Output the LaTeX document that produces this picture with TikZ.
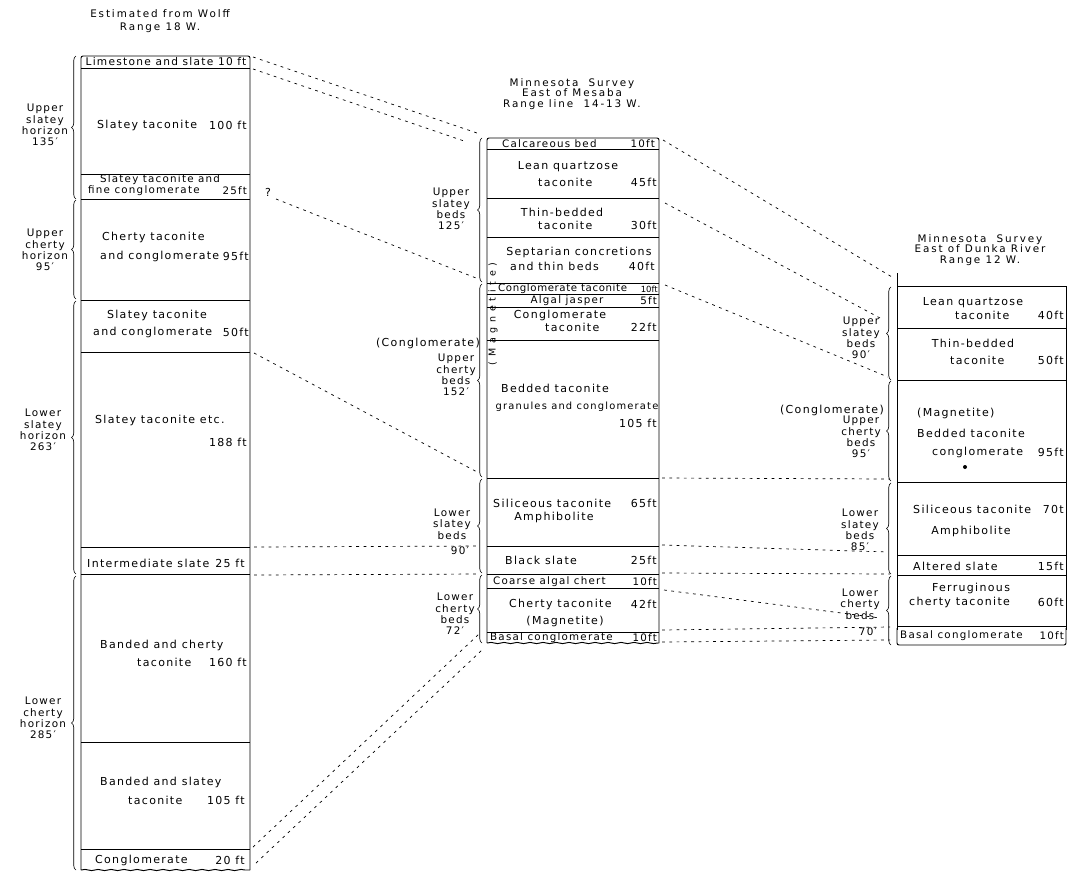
\documentclass[tikz,border=0pt]{standalone}
\usepackage{fontspec}
\setmainfont{DejaVu Sans}[LetterSpace=12]
\usetikzlibrary{decorations.pathreplacing,decorations.pathmorphing}
\tikzset{
  txt/.style={font=\fontsize{11}{12}\selectfont, inner sep=0pt},
  txs/.style={font=\fontsize{10.3}{11}\selectfont, inner sep=0pt},
  txx/.style={font=\fontsize{10.2}{11}\selectfont\addfontfeatures{LetterSpace=6}, inner sep=0pt},
  lab/.style={font=\fontsize{10.4}{11.3}\selectfont, align=center, inner sep=0pt},
  ttl/.style={font=\fontsize{10.4}{10.4}\selectfont\addfontfeatures{LetterSpace=18}, align=center, inner sep=0pt},
  col/.style={line width=0.95pt},
  sep/.style={line width=0.85pt},
  wavy/.style={line width=0.95pt, decorate, decoration={snake, amplitude=0.6pt, segment length=13pt}},
  corr/.style={line width=0.7pt, dash pattern=on 2.8pt off 4.5pt},
  brc/.style={decorate, decoration={brace, amplitude=4.5pt}, line width=0.65pt}
}
\begin{document}
\begin{tikzpicture}[x=1pt,y=-1pt]
\useasboundingbox (0,0) rectangle (1068,873);
% ---------------- titles
\node[ttl, font=\fontsize{10.4}{13}\selectfont\addfontfeatures{LetterSpace=18}] (tl) at (160,21.5) {Estimated from Wolff\\Range 18 W.};
\node[ttl] (tm) at (572,94) {Minnesota\ \ Survey\\East of Mesaba\\Range line\ \ 14-13 W.};
\node[ttl] (tr) at (980,250) {Minnesota\ \ Survey\\East of Dunka River\\Range 12 W.};

% ---------------- left column
\draw[col, rounded corners=2pt] (81,870) -- (81,56) -- (250,56) -- (250,870);
\draw[wavy] (81,870) -- (250,870);
\foreach \y in {68,174,199,300,352,547,574,742,849} \draw[sep] (81,\y) -- (250,\y);
\draw[brc] (76,199) -- (76,56);
\draw[brc] (76,299) -- (76,200);
\draw[brc] (76,574) -- (76,301);
\draw[brc] (76,870) -- (76,576);

\node[txt, font=\fontsize{10.6}{12}\selectfont] (a1) at (166,62) {Limestone and slate 10 ft};
\node[txt,anchor=west] (a2) at (97,125) {Slatey taconite};
\node[txt,anchor=east] (a2f) at (247,125) {100 ft};
\node[txs] (a3) at (160,180) {Slatey taconite and};
\node[txs,anchor=west] (a3b) at (88,191) {fine conglomerate};
\node[txs,anchor=east] (a3f) at (247,191) {25ft};
\node[txt,anchor=west] (a4) at (102,237) {Cherty taconite};
\node[txt,anchor=west] (a4b) at (100,256) {and conglomerate};
\node[txt,anchor=east] (a4f) at (249,256) {95ft};
\node[txt] (a5) at (157,315) {Slatey taconite};
\node[txt,anchor=west] (a5b) at (93,332) {and conglomerate};
\node[txt,anchor=east] (a5f) at (249,332) {50ft};
\node[txt,anchor=west] (a6) at (95,420) {Slatey taconite etc.};
\node[txt,anchor=east] (a6f) at (247,442) {188 ft};
\node[txt,anchor=west] (a7) at (87,563) {Intermediate slate};
\node[txt,anchor=east] (a7f) at (245,563) {25 ft};
\node[txt,anchor=west] (a8) at (100,645) {Banded and cherty};
\node[txt,anchor=west] (a8b) at (137,662) {taconite};
\node[txt,anchor=east] (a8f) at (247,662) {160 ft};
\node[txt,anchor=west] (a9) at (100,782) {Banded and slatey};
\node[txt,anchor=west] (a9b) at (128,800) {taconite};
\node[txt,anchor=east] (a9f) at (245,800) {105 ft};
\node[txt,anchor=west] (a10) at (95,860) {Conglomerate};
\node[txt,anchor=east] (a10f) at (245,860) {20 ft};

\node[lab] (la1) at (45,125) {Upper\\slatey\\horizon\\135′};
\node[lab] (la2) at (45,250) {Upper\\cherty\\horizon\\95′};
\node[lab] (la3) at (43,430) {Lower\\slatey\\horizon\\263′};
\node[lab] (la4) at (43,718) {Lower\\cherty\\horizon\\285′};
\node[txt] (qm) at (268,192) {?};

% ---------------- middle column
\draw[col, rounded corners=2pt] (487,643) -- (487,138) -- (659,138) -- (659,643);
\draw[wavy] (487,643) -- (659,643);
\foreach \y in {149,198,237,283,294,307,340,478,546,574,588,632} \draw[sep] (487,\y) -- (659,\y);
\draw[brc] (482,282) -- (482,138);
\draw[brc] (482,477) -- (482,284);
\draw[brc] (482,573) -- (482,479);
\draw[brc] (482,643) -- (482,575);

\node[txs,anchor=west] (b1) at (502,143.5) {Calcareous bed};
\node[txs,anchor=east] (b1f) at (655,143.5) {10ft};
\node[txt] (b2) at (568,167) {Lean quartzose};
\node[txt,anchor=west] (b2b) at (538,182) {taconite};
\node[txt,anchor=east] (b2f) at (657,182) {45ft};
\node[txt] (b3) at (562,212) {Thin-bedded};
\node[txt,anchor=west] (b3b) at (538,225) {taconite};
\node[txt,anchor=east] (b3f) at (657,225) {30ft};
\node[txt] (b4) at (579,252) {Septarian concretions};
\node[txt,anchor=west] (b4b) at (510,266) {and thin beds};
\node[txt,anchor=east] (b4f) at (655,266) {40ft};
\node[txx,anchor=west] (b5) at (498,289) {Conglomerate taconite};
\node[txx,anchor=east, font=\fontsize{8.5}{9}\selectfont\addfontfeatures{LetterSpace=0}] (b5f) at (658,289) {10ft};
\node[txs] (b6) at (567,300.5) {Algal jasper};
\node[txs,anchor=east] (b6f) at (657,300.5) {5ft};
\node[txt] (b7) at (560,315) {Conglomerate};
\node[txt,anchor=west] (b7b) at (545,327) {taconite};
\node[txt,anchor=east] (b7f) at (657,327) {22ft};
\node[txt] (b8) at (555,388) {Bedded taconite};
\node[txs, font=\fontsize{9.9}{11}\selectfont] (b8b) at (577,407) {granules and conglomerate};
\node[txt,anchor=east] (b8f) at (657,423) {105 ft};
\node[txt,anchor=west] (b9) at (493,503) {Siliceous taconite};
\node[txt,anchor=east] (b9f) at (657,503) {65ft};
\node[txt] (b9b) at (554,517) {Amphibolite};
\node[txt,anchor=west] (b10) at (505,560) {Black slate};
\node[txt,anchor=east] (b10f) at (657,560) {25ft};
\node[txs,anchor=west] (b11) at (493,581.5) {Coarse algal chert};
\node[txs,anchor=east] (b11f) at (657,581.5) {10ft};
\node[txt,anchor=west] (b12) at (509,604) {Cherty taconite};
\node[txt,anchor=east] (b12f) at (657,604) {42ft};
\node[txt] (b12b) at (565,621) {(Magnetite)};
\node[txs,anchor=west] (b13) at (490,637.5) {Basal conglomerate};
\node[txs,anchor=east] (b13f) at (657,637.5) {10ft};
\node[txt,rotate=90,font=\fontsize{9.5}{10}\selectfont\addfontfeatures{LetterSpace=50}] (bmag) at (493,314) {(Magnetite)};

\node[lab] (lb1) at (451,209) {Upper\\slatey\\beds\\125′};
\node[txt] (lbc) at (428,343) {(Conglomerate)};
\node[lab] (lb2) at (456,375) {Upper\\cherty\\beds\\152′};
\node[lab] (lb3) at (452,524) {Lower\\slatey\\beds};
\node[lab] (lb3b) at (460,551) {90′};
\node[lab] (lb4) at (455,614) {Lower\\cherty\\beds\\72′};

% ---------------- right column
\draw[col] (897,273) -- (897,630);
\draw[col] (897,286) -- (1066,286) -- (1066,630);
\draw[col, rounded corners=2pt] (897,628) -- (897,645) -- (1066,645) -- (1066,628);
\foreach \y in {328,380,482,555,575,626} \draw[sep] (897,\y) -- (1066,\y);
\draw[brc] (891,380) -- (891,287);
\draw[brc] (891,481) -- (891,381);
\draw[brc] (891,574) -- (891,483);
\draw[brc] (891,645) -- (891,576);

\node[txt] (c1) at (973,303) {Lean quartzose};
\node[txt,anchor=west] (c1b) at (955,315) {taconite};
\node[txt,anchor=east] (c1f) at (1064,315) {40ft};
\node[txt] (c2) at (973,343) {Thin-bedded};
\node[txt,anchor=west] (c2b) at (950,360) {taconite};
\node[txt,anchor=east] (c2f) at (1064,360) {50ft};
\node[txt,anchor=west] (c3) at (917,413) {(Magnetite)};
\node[txt,anchor=west] (c3b) at (917,433) {Bedded taconite};
\node[txt,anchor=west] (c3c) at (932,452) {conglomerate};
\node[txt,anchor=east] (c3f) at (1064,452) {95ft};
\node[fill, circle, inner sep=0pt, minimum size=4pt] (cdot) at (965,467) {};
\node[txt,anchor=west] (c4) at (913,509) {Siliceous taconite};
\node[txt,anchor=east] (c4f) at (1064,509) {70t};
\node[txt] (c4b) at (971,531) {Amphibolite};
\node[txt,anchor=west] (c5) at (913,566) {Altered slate};
\node[txt,anchor=east] (c5f) at (1064,566) {15ft};
\node[txt] (c6) at (971,588) {Ferruginous};
\node[txt,anchor=west] (c6b) at (909,602) {cherty taconite};
\node[txt,anchor=east] (c6f) at (1064,602) {60ft};
\node[txs,anchor=west] (c7) at (900,636) {Basal conglomerate};
\node[txs,anchor=east] (c7f) at (1064,636) {10ft};

\node[lab] (lc1) at (861,338) {Upper\\slatey\\beds\\90′};
\node[txt] (lcc) at (832,410) {(Conglomerate)};
\node[lab] (lc2) at (861,437) {Upper\\cherty\\beds\\95′};
\node[lab] (lc3) at (860,530) {Lower\\slatey\\beds\\85′};
\node[lab] (lc4) at (860,604) {Lower\\cherty\\beds};
\node[lab] (lc4b) at (868,632) {70′};

% ---------------- correlation lines
\coordinate (p1a) at (253,57);  \coordinate (p1b) at (480,134);
\coordinate (p2a) at (253,69);  \coordinate (p2b) at (467,142);
\coordinate (p3a) at (276,199); \coordinate (p3b) at (476,278);
\coordinate (p4a) at (254,353); \coordinate (p4b) at (479,473);
\coordinate (p5a) at (254,547); \coordinate (p5b) at (480,546);
\coordinate (p6a) at (254,575); \coordinate (p6b) at (480,574);
\coordinate (p7a) at (253,847); \coordinate (p7b) at (480,633);
\coordinate (p8a) at (256,863); \coordinate (p8b) at (482,650);
\coordinate (q1a) at (663,140); \coordinate (q1b) at (892,277);
\coordinate (q2a) at (665,203); \coordinate (q2b) at (880,318);
\coordinate (q3a) at (665,285); \coordinate (q3b) at (888,377);
\coordinate (q4a) at (662,478); \coordinate (q4b) at (890,479);
\coordinate (q5a) at (662,545); \coordinate (q5b) at (888,552);
\coordinate (q6a) at (662,573); \coordinate (q6b) at (890,574);
\coordinate (q7a) at (664,590); \coordinate (q7b) at (880,618);
\coordinate (q8a) at (662,630); \coordinate (q8b) at (890,627);
\coordinate (q9a) at (662,642); \coordinate (q9b) at (890,640);
\foreach \s in {p1,p2,p3,p4,p5,p6,p7,p8,q1,q2,q3,q4,q5,q6,q7,q8,q9}
  \draw[corr] (\s a) -- (\s b);
\end{tikzpicture}
\end{document}
